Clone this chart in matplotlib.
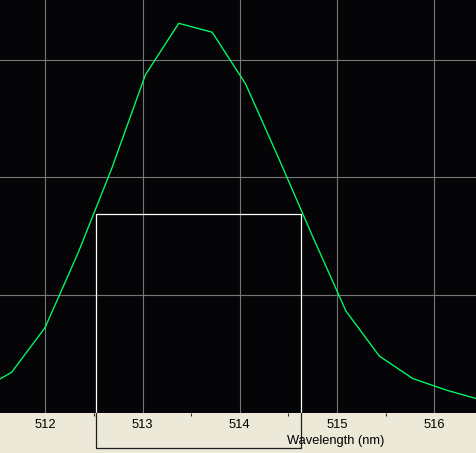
import matplotlib
matplotlib.use("Agg")
import matplotlib.pyplot as plt
from matplotlib.ticker import MultipleLocator

# spectrum samples (wavelength in nm, intensity in arbitrary counts)
wavelength = [511.310, 511.654, 511.998, 512.341, 512.685, 513.029, 513.372,
              513.716, 514.060, 514.403, 514.747, 515.091, 515.434, 515.778,
              516.122, 516.465]
intensity = [179, 342, 722, 1364, 2078, 2869, 3308, 3232, 2792, 2155, 1500,
             863, 480, 289, 191, 110]

# half-maximum marker box
fwhm_left = 512.518
fwhm_right = 514.632
half_height = 1685
box_bottom = -302

x_ticks = [512, 513, 514, 515, 516]
x_labels = ["512", "513", "514", "515", "516"]
y_grid = [1000, 2000, 3000]

W, H = 476, 453
fig = plt.figure(figsize=(W / 100, H / 100), dpi=100)
fig.patch.set_facecolor("#ece9d8")

plot_h = 412.5
ax = fig.add_axes([0, 1 - plot_h / H, 1, plot_h / H])
ax.set_facecolor("#050508")
ax.set_xlim(511.5342, 516.4288)
ax.set_ylim(0, 3506)

ax.set_xticks(x_ticks)
ax.set_xticklabels(x_labels, family="Liberation Sans", fontsize=9.3)
ax.xaxis.set_minor_locator(MultipleLocator(0.5))
ax.set_yticks(y_grid)
ax.tick_params(axis="x", which="major", length=0, pad=4.5, colors="black")
ax.tick_params(axis="x", which="minor", length=2.5, width=0.8, color="#303030")
ax.tick_params(axis="y", left=False, labelleft=False)
ax.grid(True, which="major", color="#767676", linewidth=0.8)
ax.set_axisbelow(True)
for s in ax.spines.values():
    s.set_visible(False)

ax.plot(wavelength, intensity, color="#00ff66", linewidth=0.95, zorder=3)

# box: white over the plot, dark below it
ax.plot([fwhm_left, fwhm_left, fwhm_right, fwhm_right],
        [0, half_height, half_height, 0], color="white", linewidth=0.9, zorder=4)
ax.plot([fwhm_left, fwhm_left, fwhm_right, fwhm_right],
        [0, box_bottom, box_bottom, 0], color="#202020", linewidth=0.9,
        clip_on=False, zorder=4)

fig.text(336 / W, 1 - 441 / H, "Wavelength (nm)", ha="center", va="center",
         family="Liberation Sans", fontsize=9.3, color="black")

fig.savefig("out.png", dpi=100, facecolor=fig.get_facecolor())
